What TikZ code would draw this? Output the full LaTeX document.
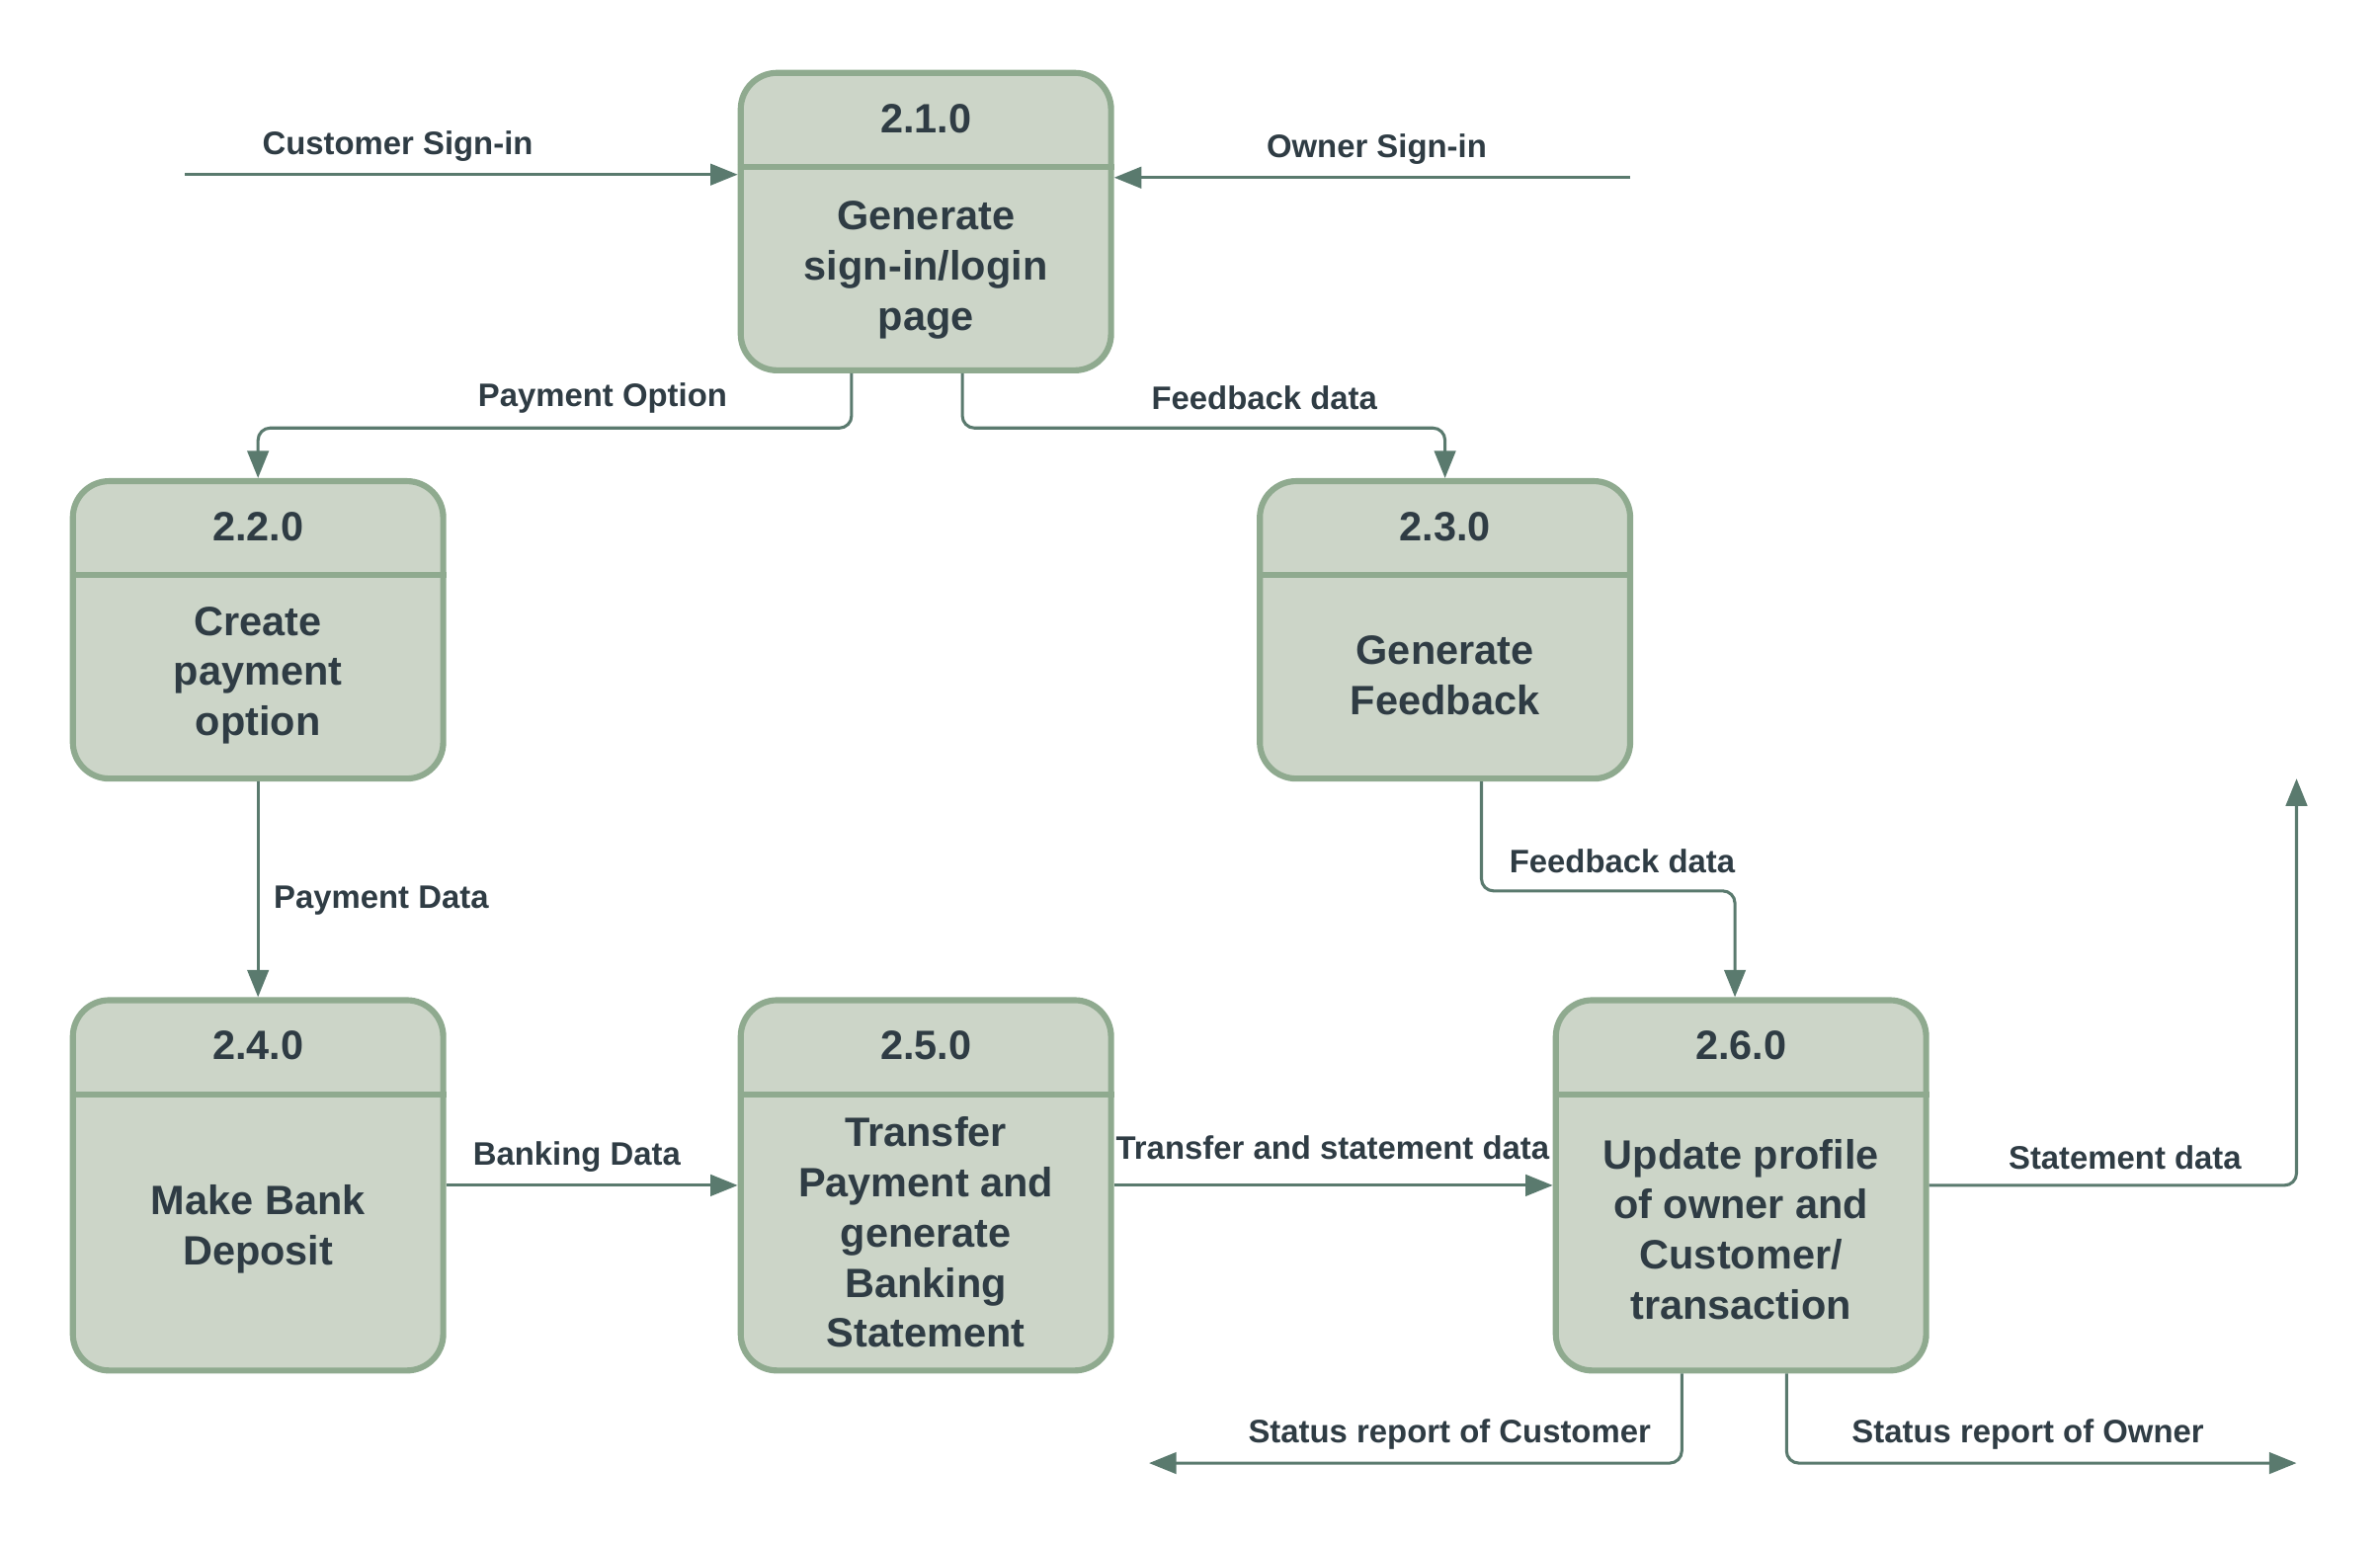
\documentclass[tikz,border=0pt]{standalone}
\usepackage{fontspec}
\setmainfont{Liberation Sans}
\usetikzlibrary{arrows.meta}
\definecolor{boxfill}{HTML}{CCD5C8}
\definecolor{boxline}{HTML}{8FAA8F}
\definecolor{flowline}{HTML}{5A7A6E}
\definecolor{inktext}{HTML}{2F3C44}

\begin{document}
\begin{tikzpicture}
    [
        x=0.5pt, y=-0.5pt,
        process/.style = {draw=boxline, fill=boxfill, shape=rectangle, rounded corners=12pt, minimum width=122pt, line width=2pt},
        divider/.style = {draw=boxline, line width=2pt},
        idtext/.style = {text=inktext, font=\fontsize{13.5}{16.5}\selectfont\bfseries},
        proctext/.style = {text=inktext, align=center, font=\fontsize{13.5}{16.5}\selectfont\bfseries},
        flowtext/.style = {text=inktext, font=\fontsize{10.7}{13}\selectfont\bfseries, inner sep=0pt, yshift=-1.2pt},
        flow/.style = {draw=flowline, line width=1pt, rounded corners=4pt, -{Triangle[length=9pt,width=7pt]}},
    ]

    \useasboundingbox (0,0) rectangle (1568,1019);

    \node[process, minimum height=98pt] (p21) at (610,146) {};
    \node[process, minimum height=98pt] (p22) at (170,415) {};
    \node[process, minimum height=98pt] (p23) at (952,415) {};
    \node[process, minimum height=122pt] (p24) at (170,781) {};
    \node[process, minimum height=122pt] (p25) at (610,781) {};
    \node[process, minimum height=122pt] (p26) at (1147,781) {};

    \foreach \p/\id in {p21/2.1.0, p22/2.2.0, p23/2.3.0, p24/2.4.0, p25/2.5.0, p26/2.6.0}
    {
        \draw[divider] ([yshift=-32pt]\p.north west) -- ([yshift=-32pt]\p.north east);
        \node[idtext] at ([yshift=-16pt]\p.north) {\id};
    }

    \node[proctext] at (610,178) {Generate\\sign-in/login\\page};
    \node[proctext] at (170,445) {Create\\payment\\option};
    \node[proctext] at (952,445) {Generate\\Feedback};
    \node[proctext] at (170,810) {Make Bank\\Deposit};
    \node[proctext] at (610,812) {Transfer\\Payment and\\generate\\Banking\\Statement};
    \node[proctext] at (1147,810) {Update profile\\of owner and\\Customer/\\transaction};

    \coordinate (cin) at (122,115);
    \coordinate (oin) at (1074,117);
    \coordinate (sout) at (1513,513);
    \coordinate (cout) at (757,964);
    \coordinate (oout) at (1513,964);

    \draw[flow] (cin) -- (cin -| p21.west);
    \draw[flow] (oin) -- (oin -| p21.east);
    \draw[flow] ([xshift=-24.5pt]p21.south) -- ++(0,36) -| (p22.north);
    \draw[flow] ([xshift=12pt]p21.south) -- ++(0,36) -| (p23.north);
    \draw[flow] (p22.south) -- (p24.north);
    \draw[flow] ([xshift=12pt]p23.south) -- ++(0,72) -| ([xshift=-2pt]p26.north);
    \draw[flow] (p24.east) -- (p25.west);
    \draw[flow] (p25.east) -- (p26.west);
    \draw[flow] (p26.east) -| (sout);
    \draw[flow] ([xshift=-19.5pt]p26.south) |- (cout);
    \draw[flow] ([xshift=15pt]p26.south) |- (oout);

    \node[flowtext] (lcin) at (262,94) {Customer Sign-in};
    \node[flowtext] (loin) at (907,96) {Owner Sign-in};
    \node[flowtext] (lpay) at (397,260) {Payment Option};
    \node[flowtext] (lfb1) at (833,260) {Feedback data};
    \node[flowtext, anchor=west] (lpd) at (180,591) {Payment Data};
    \node[flowtext, anchor=west] (lfb2) at (994,565) {Feedback data};
    \node[flowtext] (lbank) at (380,760) {Banking Data};
    \node[flowtext] (ltrans) at (878,754) {Transfer and statement data};
    \node[flowtext] (lstat) at (1400,760) {Statement data};
    \node[flowtext] (lcust) at (955,943) {Status report of Customer};
    \node[flowtext] (lown) at (1336,943) {Status report of Owner};
\end{tikzpicture}
\end{document}
